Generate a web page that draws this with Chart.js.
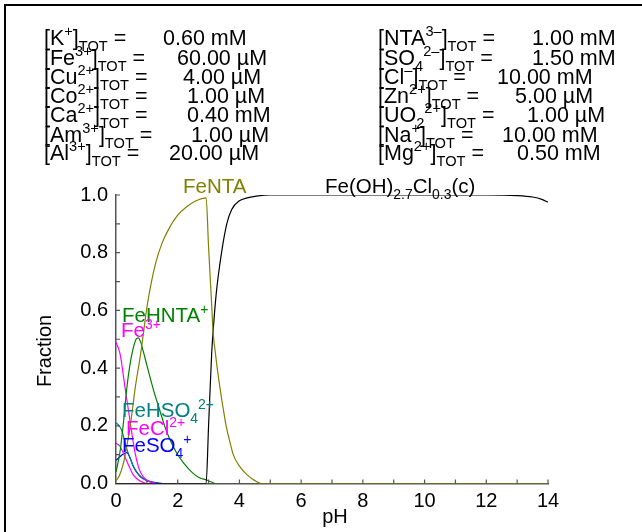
<!DOCTYPE html>
<html>
<head>
<meta charset="utf-8">
<script src="https://cdn.jsdelivr.net/npm/chart.js@4.4.1/dist/chart.umd.min.js"></script>
<style>
  html, body { margin: 0; padding: 0; background: #fff; }
</style>
</head>
<body>
<canvas id="myChart" width="642" height="532"></canvas>
<script>
/* globals Chart */

const FONT = "'Liberation Sans', Arial, sans-serif";

// totals printed above the plot
const leftLabels = ["[K^{+}]_{TOT} =", "[Fe^{3+}]_{TOT} =", "[Cu^{2+}]_{TOT} =", "[Co^{2+}]_{TOT} =",
  "[Ca^{2+}]_{TOT} =", "[Am^{3+}]_{TOT} =", "[Al^{3+}]_{TOT} ="];
const leftValues = ["0.60 mM", "60.00 µM", "4.00 µM", "1.00 µM", "0.40 mM", "1.00 µM", "20.00 µM"];
const rightLabels = ["[NTA^{3–}]_{TOT} =", "[SO_{4}^{2–}]_{TOT} =", "[Cl^{–}]_{TOT} =", "[Zn^{2+}]_{TOT} =",
  "[UO_{2}^{2+}]_{TOT} =", "[Na^{+}]_{TOT} =", "[Mg^{2+}]_{TOT} ="];
const rightValues = ["1.00 mM", "1.50 mM", "10.00 mM", "5.00 µM", "1.00 µM", "10.00 mM", "0.50 mM"];

// species curves: pH and fraction
const fentaPH = [0, 0.1, 0.24, 0.4, 0.5, 0.62, 0.8, 0.9, 1.0, 1.15, 1.3, 1.5, 1.7, 2.0, 2.3, 2.6, 2.92,
  3.0, 3.1, 3.15, 3.2, 3.28, 3.4, 3.57, 3.7, 3.8, 4.0, 4.25, 4.5, 4.7, 14];
const fentaFrac = [0.01, 0.025, 0.07, 0.16, 0.23, 0.33, 0.45, 0.53, 0.61, 0.7, 0.77, 0.835, 0.88, 0.93, 0.96, 0.98, 0.99,
  0.82, 0.62, 0.52, 0.47, 0.4, 0.31, 0.2, 0.14, 0.1, 0.06, 0.03, 0.01, 0, 0];

const solidPH = [0, 2.92, 3.0, 3.1, 3.17, 3.25, 3.42, 3.59, 3.75, 4.0, 4.25, 4.6, 5, 12, 13, 13.5, 13.8, 14];
const solidFrac = [0, 0, 0.2, 0.45, 0.56, 0.66, 0.8, 0.9, 0.95, 0.98, 0.99, 0.997, 1, 1, 0.998, 0.993, 0.985, 0.975];

const fehntaPH = [0, 0.13, 0.25, 0.35, 0.45, 0.56, 0.65, 0.72, 0.8, 0.88, 1.0, 1.2, 1.4, 1.64, 1.8, 1.97, 2.2, 2.5, 2.7, 2.94, 3.2];
const fehntaFrac = [0.04, 0.11, 0.22, 0.33, 0.41, 0.47, 0.5, 0.505, 0.49, 0.46, 0.41, 0.33, 0.26, 0.18, 0.14, 0.105, 0.07, 0.035, 0.02, 0.012, 0];

const fe3PH = [0, 0.13, 0.29, 0.45, 0.62, 0.75, 0.88, 1.1, 1.3];
const fe3Frac = [0.49, 0.45, 0.335, 0.22, 0.105, 0.05, 0.024, 0.005, 0];

const feclPH = [0, 0.12, 0.24, 0.4, 0.56, 0.75, 1.0];
const feclFrac = [0.14, 0.13, 0.105, 0.065, 0.03, 0.01, 0];

const fehso4PH = [0, 0.1, 0.18, 0.35, 0.45, 0.56, 0.7, 0.88, 1.1, 1.4];
const fehso4Frac = [0.21, 0.2, 0.185, 0.12, 0.09, 0.06, 0.035, 0.018, 0.006, 0];

const feso4PH = [0, 0.1, 0.2, 0.35, 0.45, 0.56, 0.7, 0.8, 1.0, 1.2, 1.5];
const feso4Frac = [0.08, 0.09, 0.1, 0.107, 0.09, 0.06, 0.035, 0.022, 0.01, 0.005, 0];

const speciesNames = ["FeNTA", "Fe(OH)_{2.7}Cl_{0.3}(c)", "FeHNTA^{+}", "Fe^{3+}", "FeHSO_{4}^{2+}", "FeCl^{2+}", "FeSO_{4}^{+}"];
const speciesColors = ["#808000", "#000000", "#008000", "#ff00ff", "#008080", "#ff00ff", "#0000ff"];

const zip = (xs, ys) => xs.map((x, i) => ({ x: x, y: ys[i] }));

function drawRich(c, text, x, y, size) {
  const parts = text.split(/(\^\{[^}]*\}|_\{[^}]*\})/).filter(Boolean);
  parts.forEach((p) => {
    let s = p, fs = size, dy = 0;
    if (p.startsWith("^{")) { s = p.slice(2, -1); fs = size * 0.68; dy = -size * 0.4; }
    else if (p.startsWith("_{")) { s = p.slice(2, -1); fs = size * 0.68; dy = size * 0.28; }
    c.font = fs + "px " + FONT;
    c.fillText(s, x, y + dy);
    x += c.measureText(s).width;
  });
  return x;
}

const extras = {
  id: "extras",
  afterDraw(chart) {
    const c = chart.ctx;
    const xs = chart.scales.x, ys = chart.scales.y;
    c.save();
    // frame of the picture
    c.fillStyle = "#000";
    c.fillRect(4, 4, 2, 528);
    c.fillRect(4, 4, 638, 2);

    // inward tick marks
    c.strokeStyle = "#555";
    c.lineWidth = 1.2;
    c.beginPath();
    for (let v = 1; v <= 14; v++) {
      const px = xs.getPixelForValue(v);
      c.moveTo(px, ys.bottom);
      c.lineTo(px, ys.bottom - 4);
    }
    for (let k = 1; k <= 10; k++) {
      const py = ys.getPixelForValue(k / 10);
      c.moveTo(xs.left, py);
      c.lineTo(xs.left + 4, py);
    }
    c.stroke();

    // header text
    c.fillStyle = "#000";
    c.textBaseline = "alphabetic";
    c.textAlign = "left";
    const baseY = [45, 65, 84, 103, 122, 142, 160];
    const leftValX = [163, 177, 183, 187, 187, 191, 169];
    const rightValX = [532, 532, 497, 515, 527, 502, 517];
    leftLabels.forEach((t, i) => {
      drawRich(c, t, 44, baseY[i], 21.5);
      drawRich(c, leftValues[i], leftValX[i], baseY[i], 21.5);
    });
    rightLabels.forEach((t, i) => {
      drawRich(c, t, 378, baseY[i], 21.5);
      drawRich(c, rightValues[i], rightValX[i], baseY[i], 21.5);
    });

    // species labels
    const spot = [[183, 193], [325, 193], [122, 322], [121, 337], [122, 417], [126, 435], [122, 452]];
    speciesNames.forEach((t, i) => {
      c.fillStyle = speciesColors[i];
      drawRich(c, t, spot[i][0], spot[i][1], 20.5);
    });

    // axis titles
    c.fillStyle = "#000";
    c.font = "20px " + FONT;
    c.textAlign = "center";
    c.textBaseline = "middle";
    c.fillText("pH", 335, 517);
    c.translate(45, 351);
    c.rotate(-Math.PI / 2);
    c.fillText("Fraction", 0, 0);
    c.restore();
  },
};

const ctx = document.getElementById("myChart").getContext("2d");

const series = [
  zip(fentaPH, fentaFrac), zip(solidPH, solidFrac), zip(fehntaPH, fehntaFrac), zip(fe3PH, fe3Frac),
  zip(fehso4PH, fehso4Frac), zip(feclPH, feclFrac), zip(feso4PH, feso4Frac),
];

/* exported myChart */
const myChart = new Chart(ctx, {
  type: "line",
  data: {
    datasets: series.map((d, i) => ({
      label: speciesNames[i],
      data: d,
      borderColor: speciesColors[i],
      borderWidth: 1.2,
      pointRadius: 0,
      fill: false,
      cubicInterpolationMode: "monotone",
    })),
  },
  options: {
    responsive: false,
    animation: false,
    layout: { padding: { top: 195, right: 94, left: 0, bottom: 0 } },
    scales: {
      x: {
        type: "linear",
        min: 0,
        max: 14,
        afterFit: (s) => { s.height = 48.5; },
        grid: { display: false, drawTicks: false },
        border: { display: true, color: "#555", width: 1.5 },
        ticks: {
          stepSize: 1,
          autoSkip: false,
          maxRotation: 0,
          padding: 6,
          color: "#000",
          font: { family: FONT, size: 20 },
          callback: (v) => (v % 2 === 0 ? String(v) : ""),
        },
      },
      y: {
        min: 0,
        max: 1,
        afterFit: (s) => { s.width = 116; },
        grid: { display: false, drawTicks: false },
        border: { display: true, color: "#555", width: 1.5 },
        ticks: {
          stepSize: 0.1,
          autoSkip: false,
          padding: 8,
          color: "#000",
          font: { family: FONT, size: 20 },
          callback: (v) => (Math.round(v * 10) % 2 === 0 ? v.toFixed(1) : ""),
        },
      },
    },
    plugins: {
      legend: { display: false },
      title: { display: false },
      tooltip: { enabled: false },
    },
  },
  plugins: [extras],
});
</script>
</body>
</html>
